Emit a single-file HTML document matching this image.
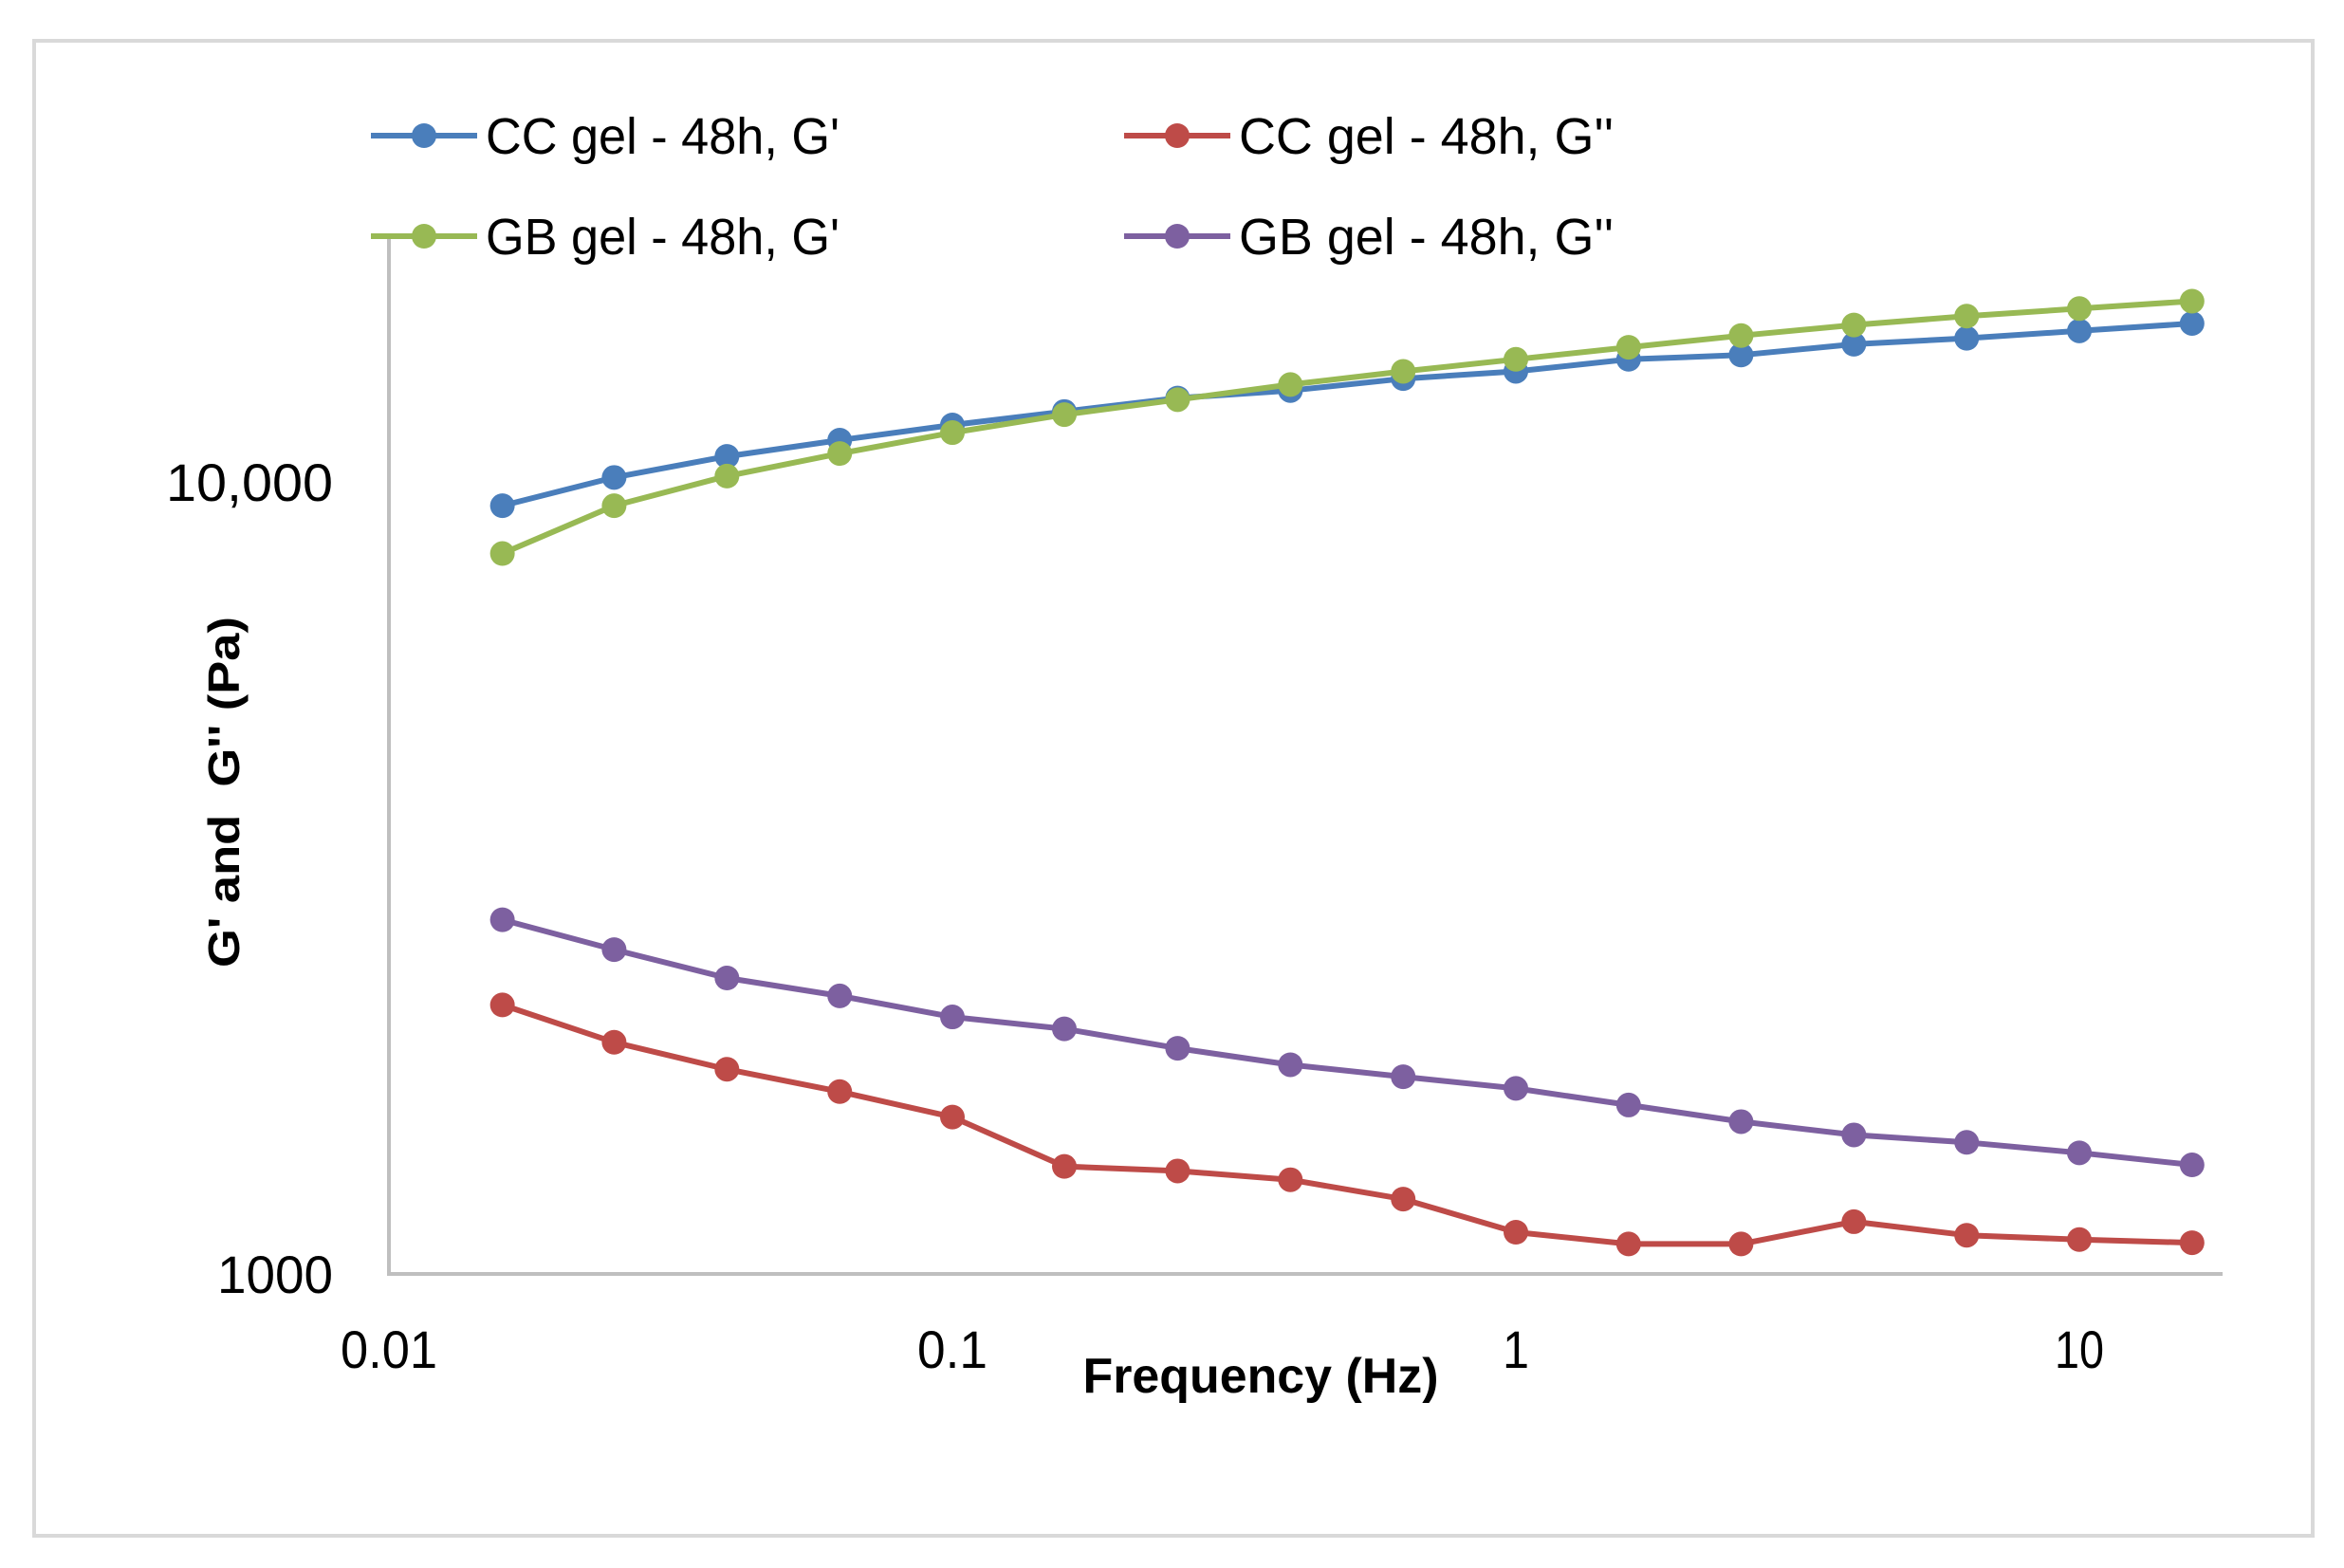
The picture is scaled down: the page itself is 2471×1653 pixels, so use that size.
<!DOCTYPE html>
<html><head><meta charset="utf-8"><style>
html,body{margin:0;padding:0;background:#fff;}
svg{display:block;}
text{font-family:"Liberation Sans",sans-serif;fill:#000;}
</style></head><body>
<svg id="chart" width="2471" height="1653" viewBox="0 0 2471 1653" xmlns="http://www.w3.org/2000/svg">
<rect x="36" y="43" width="2402" height="1576" fill="#fff" stroke="#d9d9d9" stroke-width="4"/>
<g id="axes"></g>
<g id="series"></g>
<g id="legend"></g>
<text x="1329" y="1468" font-size="52" font-weight="bold" text-anchor="middle" textLength="375" lengthAdjust="spacingAndGlyphs">Frequency (Hz)</text>
<text xml:space="preserve" transform="translate(252,835) rotate(-90)" font-size="46" font-weight="bold" text-anchor="middle" textLength="370" lengthAdjust="spacingAndGlyphs">G' and  G'' (Pa)</text>
</svg>
<script>
const freqs = [0.0159,0.0251,0.0398,0.0631,0.1,0.158,0.251,0.398,0.631,1,1.585,2.51,3.98,6.31,10,15.85];
const ccGp = [9330,10130,10770,11290,11800,12270,12760,13040,13500,13790,14280,14460,14920,15180,15510,15850];
const ccGpp = [2186,1961,1813,1699,1578,1367,1349,1315,1243,1129,1091,1091,1164,1119,1105,1095];
const gbGp = [8120,9330,10170,10860,11540,12160,12700,13270,13790,14280,14790,15300,15780,16190,16550,16910];
const gbGpp = [2800,2567,2364,2244,2111,2039,1927,1837,1774,1715,1634,1557,1498,1466,1422,1373];
const xTicks = [0.01,0.1,1,10];
const xTickLabels = ["0.01","0.1","1","10"];
const yTicks = [1000,10000];
const yTickLabels = ["1000","10,000"];
const seriesNames = ["CC gel - 48h, G'","CC gel - 48h, G''","GB gel - 48h, G'","GB gel - 48h, G''"];

const NS="http://www.w3.org/2000/svg";
function X(v){return 410+594*Math.log10(v/0.01);}
function Y(v){return 1343-835*Math.log10(v/1000);}
function mk(tag,attrs,parent){const e=document.createElementNS(NS,tag);for(const k in attrs)e.setAttribute(k,attrs[k]);parent.appendChild(e);return e;}
const axes=document.getElementById('axes');
let e=mk('line',{x1:410,y1:252,x2:410,y2:1344,stroke:'#bfbfbf','stroke-width':4},axes);


e=mk('line',{x1:408,y1:1343,x2:2343,y2:1343,stroke:'#bfbfbf','stroke-width':4},axes);


const xLens=[102,74,28,52];
xTicks.forEach((t,i)=>{
  const el=mk('text',{x:X(t),y:1442,'font-size':56,'text-anchor':'middle',textLength:xLens[i],lengthAdjust:'spacingAndGlyphs'},axes);
  el.textContent=xTickLabels[i];
  
  
});
const yLens=[122,176];
yTicks.forEach((t,i)=>{
  const el=mk('text',{x:351,y:Y(t)+20,'font-size':56,'text-anchor':'end',textLength:yLens[i],lengthAdjust:'spacingAndGlyphs'},axes);
  el.textContent=yTickLabels[i];
  
  
});
const colors=['#4a7ebb','#be4b48','#98b954','#7d60a0'];
const data=[ccGp,ccGpp,gbGp,gbGpp];
const sg=document.getElementById('series');
const names=['cc-gel-g-prime','cc-gel-g-double-prime','gb-gel-g-prime','gb-gel-g-double-prime'];
[1,3,0,2].forEach(si=>{
  const g=mk('g',{},sg);
  
  
  const pts=freqs.map((f,i)=>X(f).toFixed(1)+','+Y(data[si][i]).toFixed(1)).join(' ');
  const pl=mk('polyline',{points:pts,fill:'none',stroke:colors[si],'stroke-width':6,'stroke-linejoin':'round'},g);
  
  
  freqs.forEach((f,i)=>{
    const c=mk('circle',{cx:X(f),cy:Y(data[si][i]),r:13,fill:colors[si]},g);
    
    
  });
});
const lg=document.getElementById('legend');
const pos=[[391,143],[1185,143],[391,249],[1185,249]];
pos.forEach((p,i)=>{
  const g=mk('g',{},lg);
  
  
  mk('line',{x1:p[0],y1:p[1],x2:p[0]+112,y2:p[1],stroke:colors[i],'stroke-width':6},g);
  mk('circle',{cx:p[0]+56,cy:p[1],r:13,fill:colors[i]},g);
  const t=mk('text',{x:p[0]+121,y:p[1]+19,'font-size':54,textLength:i%2?395:373,lengthAdjust:'spacingAndGlyphs'},g);
  t.textContent=seriesNames[i];
});
</script>
</body></html>
